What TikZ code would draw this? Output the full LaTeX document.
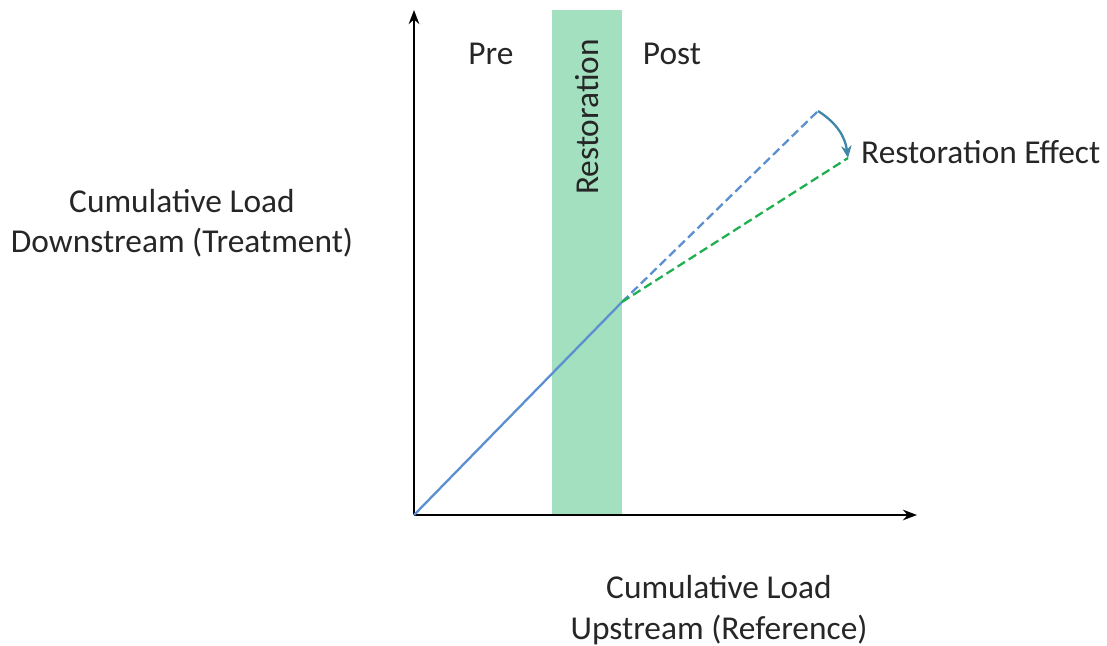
\documentclass[tikz,border=0pt]{standalone}
\usepackage{fontspec}
\setmainfont{Carlito}
\definecolor{bandgreen}{HTML}{A3E0BF}
\definecolor{lineblue}{HTML}{5B8FD0}
\definecolor{linegreen}{HTML}{1EB050}
\definecolor{arrowteal}{HTML}{3F86A8}
\tikzset{
  lbl/.style={font=\fontsize{19}{23}\selectfont, text=black!85, align=center},
  axis/.style={line width=1.6pt, -{Stealth[length=8pt,width=6pt]}}
}
\usetikzlibrary{arrows.meta}
\begin{document}
\begin{tikzpicture}[x=0.02cm, y=-0.02cm]
\useasboundingbox (0,0) rectangle (1107,646);
\fill[bandgreen] (552,10) rectangle (622,515);
\coordinate (O) at (414,515);
\coordinate (ytop) at (414,10);
\coordinate (xend) at (917,515);
\coordinate (brk) at (622,302);
\coordinate (pre) at (818,111);
\coordinate (post) at (848,158);
\draw[axis] (O) -- (ytop);
\draw[axis] (O) -- (xend);
\draw[lineblue, line width=1.3pt] (O) -- (brk);
\draw[lineblue, line width=1.3pt, dash pattern=on 5pt off 2.5pt] (brk) -- (pre);
\draw[linegreen, line width=1.3pt, dash pattern=on 5pt off 2.5pt] (brk) -- (post);
\draw[arrowteal, line width=1.3pt, -{Stealth[length=7pt,width=6pt]}] (pre) to[bend left=25] (post);
\node[lbl] (prelbl) at (491,54) {Pre};
\node[lbl] (postlbl) at (672,54) {Post};
\node[lbl, rotate=90] (restlbl) at (587,117) {Restoration};
\node[lbl, anchor=west] (efflbl) at (855,152) {Restoration Effect};
\node[lbl] (ylbl) at (182,223) {Cumulative Load\\Downstream (Treatment)};
\node[lbl] (xlbl) at (719,610) {Cumulative Load\\Upstream (Reference)};
\end{tikzpicture}
\end{document}
